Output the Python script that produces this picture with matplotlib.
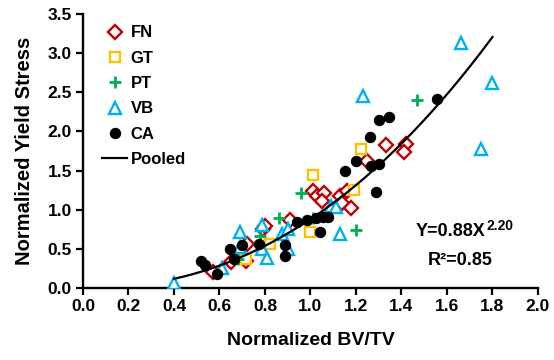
import numpy as np
import matplotlib
matplotlib.use("Agg")
import matplotlib.pyplot as plt

plt.rcParams['font.family'] = ['Liberation Sans', 'DejaVu Sans']
plt.rcParams['font.weight'] = 'bold'

# ---- data ----
fn_x = [0.57, 0.65, 0.715, 0.72, 0.79, 0.80, 0.91, 1.01, 1.03, 1.06, 1.05, 1.13, 1.14, 1.18, 1.16, 1.25, 1.33, 1.42, 1.41]
fn_y = [0.20, 0.33, 0.35, 0.56, 0.76, 0.79, 0.87, 1.24, 1.18, 1.22, 1.11, 1.17, 1.09, 1.02, 1.24, 1.62, 1.83, 1.84, 1.74]

gt_x = [0.716, 0.82, 1.00, 1.01, 1.19, 1.22]
gt_y = [0.37, 0.56, 0.71, 1.45, 1.25, 1.77]

pt_x = [0.68, 0.78, 0.86, 0.96, 1.01, 1.20, 1.47]
pt_y = [0.37, 0.66, 0.89, 1.22, 0.90, 0.74, 2.40]

vb_x = [0.40, 0.61, 0.69, 0.69, 0.785, 0.785, 0.81, 0.875, 0.90, 0.90, 1.09, 1.11, 1.13, 1.23, 1.66, 1.80, 1.75]
vb_y = [0.07, 0.26, 0.72, 0.52, 0.80, 0.50, 0.38, 0.69, 0.76, 0.50, 1.05, 1.03, 0.69, 2.45, 3.13, 2.62, 1.78]

ca_x = [0.52, 0.535, 0.59, 0.645, 0.665, 0.70, 0.775, 0.89, 0.888, 0.94, 0.985, 1.025, 1.055, 1.075, 1.04,
        1.15, 1.20, 1.265, 1.30, 1.29, 1.26, 1.30, 1.345, 1.555]
ca_y = [0.34, 0.29, 0.18, 0.50, 0.37, 0.55, 0.56, 0.55, 0.41, 0.84, 0.87, 0.89, 0.91, 0.91, 0.71,
        1.49, 1.62, 1.56, 1.58, 1.23, 1.93, 2.14, 2.18, 2.42]

fit_a = 0.88
fit_b = 2.20
fit_xmin, fit_xmax = 0.40, 1.80

x_ticks = [0.0, 0.2, 0.4, 0.6, 0.8, 1.0, 1.2, 1.4, 1.6, 1.8, 2.0]
y_ticks = [0.0, 0.5, 1.0, 1.5, 2.0, 2.5, 3.0, 3.5]

# ---- figure ----
fig = plt.figure(figsize=(5.54, 3.60), dpi=100)
ax = fig.add_axes([0.1498, 0.20, 0.8213, 0.761])

mew = 1.7
ax.plot(fn_x, fn_y, linestyle='none', marker='D', ms=6.8, mfc='white', mec='#C00000', mew=mew, label='FN', zorder=3)
ax.plot(gt_x, gt_y, linestyle='none', marker='s', ms=7.5, mfc='white', mec='#FFC000', mew=mew, label='GT', zorder=3)
ax.plot(pt_x, pt_y, linestyle='none', marker='+', ms=9, mec='#00B050', mew=2.0, label='PT', zorder=3)
ax.plot(vb_x, vb_y, linestyle='none', marker='^', ms=8.5, mfc='white', mec='#00B0F0', mew=mew, label='VB', zorder=3)
ax.plot(ca_x, ca_y, linestyle='none', marker='o', ms=7.2, mfc='black', mec='black', label='CA', zorder=4)

xf = np.linspace(fit_xmin, fit_xmax, 200)
ax.plot(xf, fit_a * xf ** fit_b, color='black', lw=1.6, label='Pooled', zorder=5)

ax.set_xlim(0, 2.0)
ax.set_ylim(0, 3.5)
ax.set_xticks(x_ticks)
ax.set_yticks(y_ticks)
ax.set_xticklabels([f"{v:.1f}" for v in x_ticks])
ax.set_yticklabels([f"{v:.1f}" for v in y_ticks])
ax.tick_params(direction='out', length=5, width=1.6, labelsize=12.5, pad=3)
for lab in ax.get_xticklabels() + ax.get_yticklabels():
    lab.set_fontweight('bold')

for s in ['top', 'right']:
    ax.spines[s].set_visible(False)
for s in ['left', 'bottom']:
    ax.spines[s].set_linewidth(1.7)

ax.set_xlabel('Normalized BV/TV', fontsize=14, fontweight='bold', labelpad=13)
ax.set_ylabel('Normalized Yield Stress', fontsize=14.5, fontweight='bold', labelpad=10)

leg = ax.legend(loc='upper left', bbox_to_anchor=(0.02, 0.995), frameon=False,
                prop={'weight': 'bold', 'size': 12}, handlelength=1.5, handletextpad=0.2,
                labelspacing=0.62, borderaxespad=0.2)

ax.text(0.884, 0.208, 'Y=0.88X', transform=ax.transAxes, ha='right', va='center',
        fontsize=13, fontweight='bold')
ax.text(0.886, 0.228, '2.20', transform=ax.transAxes, ha='left', va='center',
        fontsize=10, fontweight='bold')
ax.text(0.83, 0.10, 'R²=0.85', transform=ax.transAxes, ha='center', va='center',
        fontsize=13, fontweight='bold')

fig.savefig('out.png', dpi=100)
